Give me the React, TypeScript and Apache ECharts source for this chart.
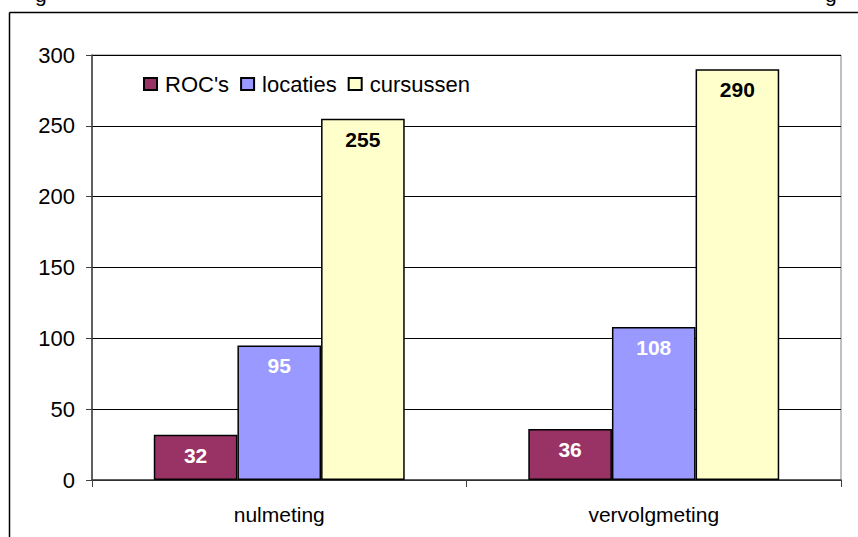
import React, { useEffect, useRef } from "react";
import * as echarts from "echarts";

const categories = ["nulmeting", "vervolgmeting"];
const seriesNames = ["ROC's", "locaties", "cursussen"];
const rocValues = [32, 36];
const locatiesValues = [95, 108];
const cursussenValues = [255, 290];
const colors = ["#993366", "#9999FF", "#FFFFCC"];
const labelColors = ["#FFFFFF", "#FFFFFF", "#000000"];

export default function App() {
  const ref = useRef<HTMLDivElement>(null);
  useEffect(() => {
    if (!ref.current) return;
    const chart = echarts.init(ref.current, null, { renderer: "svg" });
    const font = "Liberation Sans, Arial, sans-serif";
    const data = [rocValues, locatiesValues, cursussenValues];
    chart.setOption({
      animation: false,
      backgroundColor: "#ffffff",
      textStyle: { fontFamily: font },
      grid: { left: 92, right: 17, top: 55, bottom: 57, show: true, borderColor: "#808080", borderWidth: 1, backgroundColor: "transparent" },
      legend: {
        data: seriesNames,
        left: 138,
        top: 68,
        itemWidth: 13,
        itemHeight: 12,
        itemGap: 11,
        icon: "rect",
        textStyle: { fontFamily: font, fontSize: 22, color: "#000", padding: [0, 0, 0, 3] },
      },
      graphic: [
        { type: "line", shape: { x1: 9.5, y1: 12.5, x2: 858, y2: 12.5 }, style: { stroke: "#000", lineWidth: 1.5 } },
        { type: "line", shape: { x1: 9.5, y1: 12.5, x2: 9.5, y2: 537 }, style: { stroke: "#000", lineWidth: 1.5 } },
        { type: "text", left: 35, top: -16, style: { text: "g", font: "21px Liberation Sans", fill: "#000" } },
        { type: "text", left: 825, top: -16, style: { text: "g", font: "21px Liberation Sans", fill: "#000" } },
      ],
      xAxis: {
        type: "category",
        data: categories,
        axisLine: { lineStyle: { color: "#404040", width: 1.5 } },
        axisTick: { show: true, length: 7, lineStyle: { color: "#404040" } },
        axisLabel: { fontFamily: font, fontSize: 21, color: "#000", margin: 24 },
      },
      yAxis: {
        type: "value",
        min: 0,
        max: 300,
        interval: 50,
        axisLine: { show: true, lineStyle: { color: "#404040", width: 1.5 } },
        axisTick: { show: true, length: 6, lineStyle: { color: "#404040" } },
        axisLabel: { fontFamily: font, fontSize: 22, color: "#000", margin: 17 },
        splitLine: { show: true, lineStyle: { color: "#000", width: 1 } },
      },
      series: seriesNames.map((name, i) => ({
        name,
        type: "bar",
        data: data[i],
        barGap: "0%",
        barCategoryGap: "33%",
        itemStyle: { color: colors[i], borderColor: "#000", borderWidth: 1.5 },
        label: {
          show: true,
          position: "insideTop",
          distance: 10,
          fontFamily: font,
          fontSize: 21,
          fontWeight: "bold",
          color: labelColors[i],
        },
      })),
    });
    return () => chart.dispose();
  }, []);
  return <div ref={ref} style={{ position: "fixed", left: 0, top: 0, width: 858, height: 537 }} />;
}
